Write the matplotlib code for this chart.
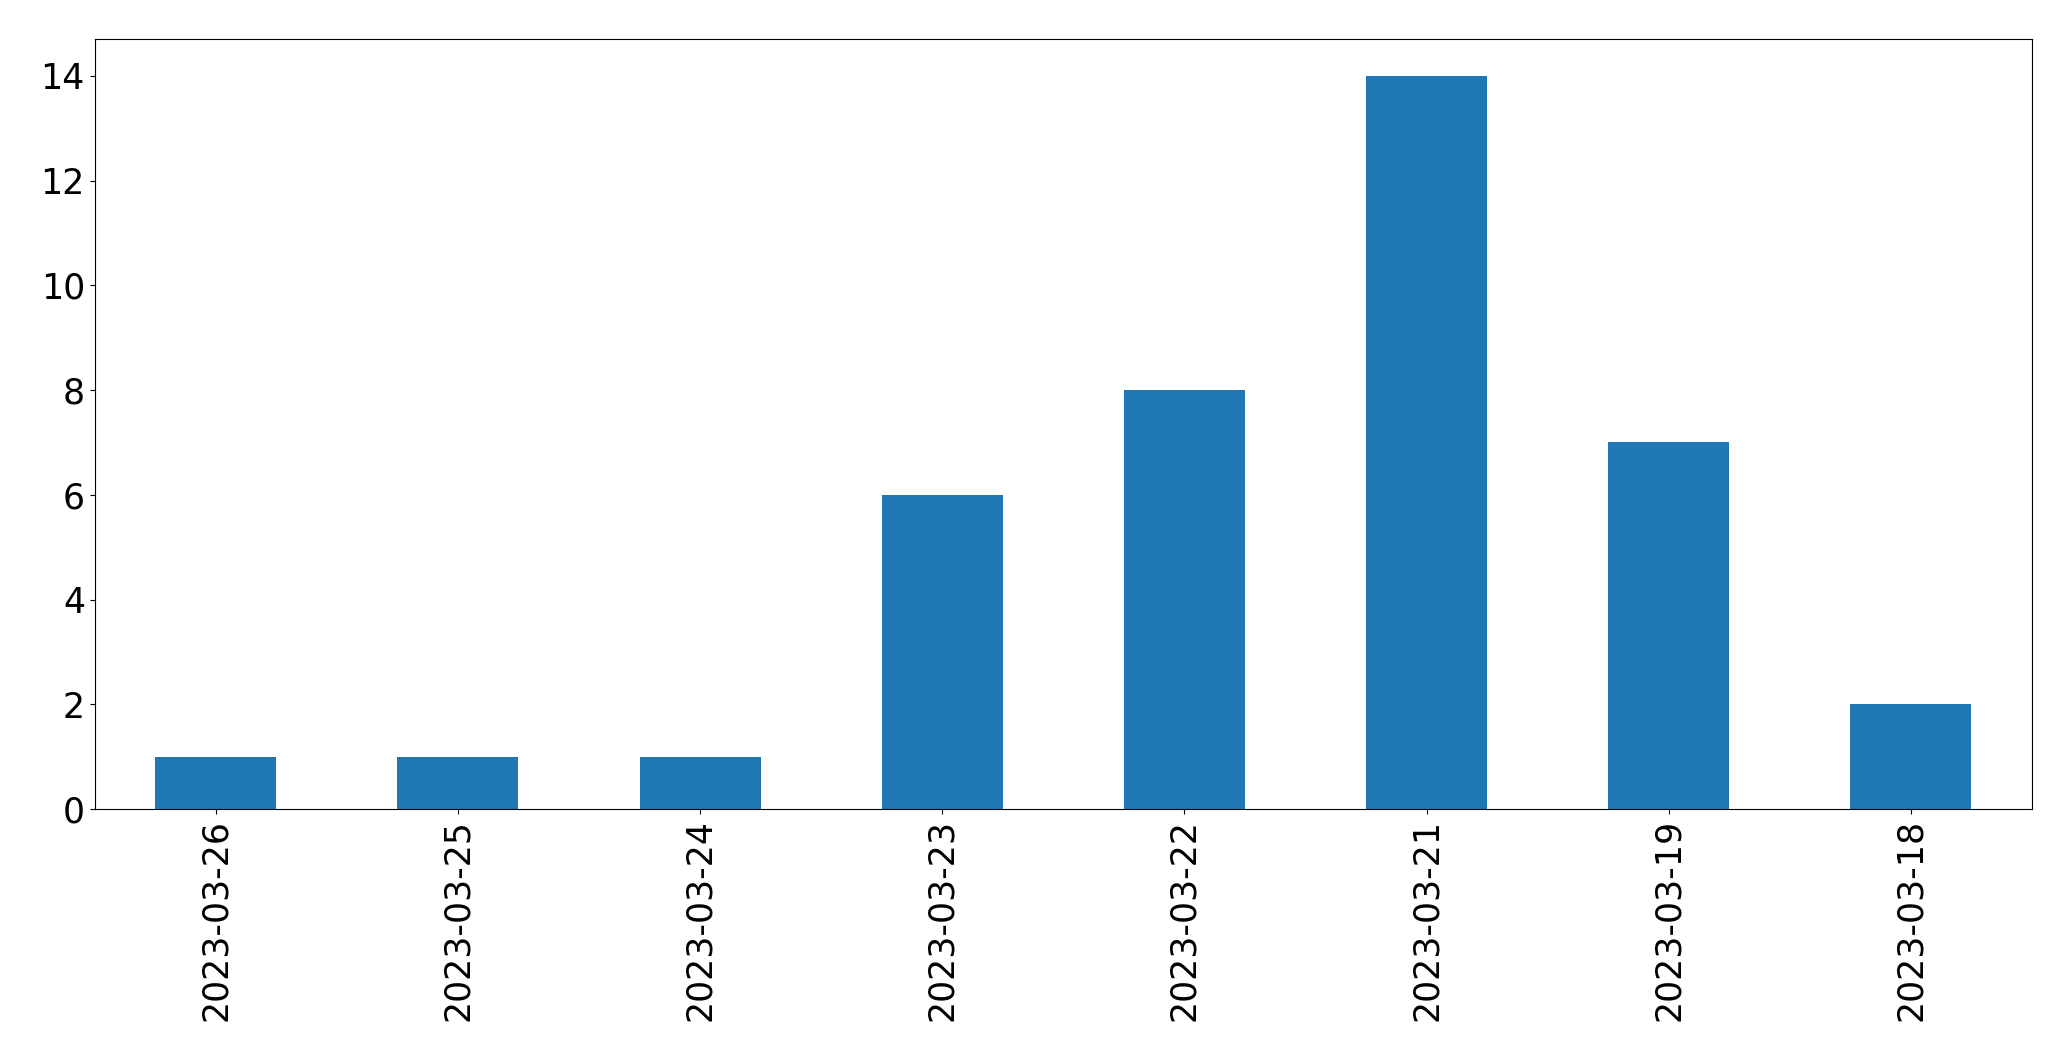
import matplotlib
matplotlib.use("Agg")
import matplotlib.pyplot as plt
import pandas as pd

# ── 数据 ──
dates = ["2023-03-26", "2023-03-25", "2023-03-24", "2023-03-23",
         "2023-03-22", "2023-03-21", "2023-03-19", "2023-03-18"]
counts = [1, 1, 1, 6, 8, 14, 7, 2]

s = pd.Series(counts, index=dates)

fig = plt.figure(figsize=(20.71, 10.61), dpi=100)
ax = fig.add_axes([94.7 / 2071, 1 - 809 / 1061, (2032 - 94.7) / 2071, (809 - 39.3) / 1061])
s.plot(kind="bar", ax=ax, color="#1f77b4", width=0.5, fontsize=25)
ax.tick_params(axis="x", labelrotation=90)

fig.savefig("out.png", dpi=100)
